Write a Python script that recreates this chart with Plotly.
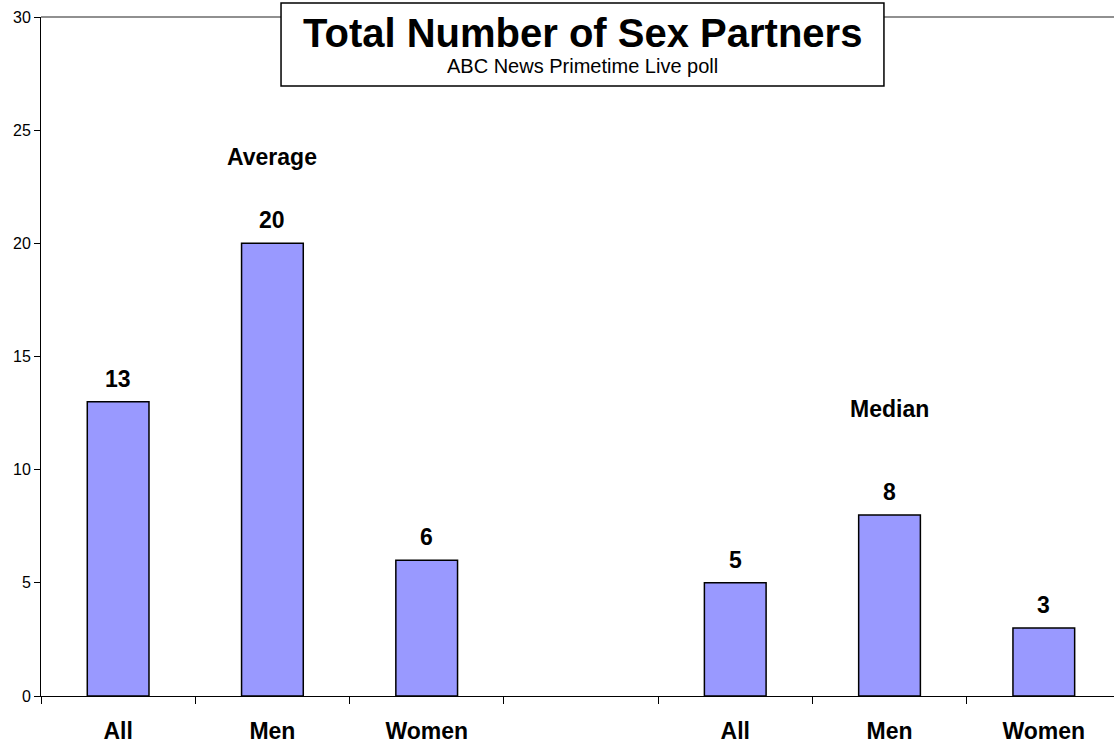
import plotly.graph_objects as go

# data
groups = ["Average", "Median"]
labels = ["All", "Men", "Women"]
average = [13, 20, 6]
median = [5, 8, 3]

# categorical slots: 3 bars, one empty gap slot, 3 bars
avg_ids = ["avg_" + s for s in labels]
med_ids = ["med_" + s for s in labels]
categories = avg_ids + ["gap"] + med_ids
tick_text = labels + [""] + labels

font_family = "Arial, Liberation Sans, sans-serif"
bar_color = "#9999FF"

fig = go.Figure()
fig.add_trace(go.Bar(
    x=avg_ids + med_ids,
    y=average + median,
    width=0.4,
    marker=dict(color=bar_color, line=dict(color="black", width=1.5)),
    showlegend=False,
    hoverinfo="x+y",
))

# value labels above each bar
for cat, val in zip(avg_ids + med_ids, average + median):
    fig.add_annotation(
        x=cat, y=val, text="<b>%d</b>" % val,
        showarrow=False, yanchor="bottom", yshift=8,
        font=dict(family=font_family, size=23, color="black"),
    )

# group labels
fig.add_annotation(x="avg_Men", y=23.8, text="<b>" + groups[0] + "</b>",
                   showarrow=False, yanchor="middle",
                   font=dict(family=font_family, size=23, color="black"))
fig.add_annotation(x="med_Men", y=12.7, text="<b>" + groups[1] + "</b>",
                   showarrow=False, yanchor="middle",
                   font=dict(family=font_family, size=23, color="black"))

# top border of the plot area (grey), then the title box over it
fig.add_shape(type="line", xref="paper", yref="paper", x0=0, x1=1, y0=1, y1=1,
              line=dict(color="#909090", width=2))
fig.add_shape(type="rect", xref="paper", yref="paper",
              x0=0.2237, x1=0.7856, y0=0.8984, y1=1.0206,
              fillcolor="white", line=dict(color="black", width=1.5))
fig.add_annotation(xref="paper", yref="paper", x=0.5047, y=0.9764,
                   xanchor="center", yanchor="middle",
                   text="<b>Total Number of Sex Partners</b>", showarrow=False,
                   font=dict(family=font_family, size=40, color="black"))
fig.add_annotation(xref="paper", yref="paper", x=0.5047, y=0.9278,
                   xanchor="center", yanchor="middle",
                   text="ABC News Primetime Live poll", showarrow=False,
                   font=dict(family=font_family, size=20, color="black"))

fig.update_layout(
    width=1114, height=744,
    margin=dict(l=41, r=0, t=17, b=48, autoexpand=False),
    paper_bgcolor="white", plot_bgcolor="white",
    font=dict(family=font_family, color="black"),
    bargap=0.6,
)
fig.update_xaxes(
    type="category", categoryorder="array", categoryarray=categories,
    tickmode="array", tickvals=categories, ticktext=tick_text,
    tickson="boundaries", ticks="outside", ticklen=7, tickcolor="black",
    showline=True, linecolor="black", linewidth=1,
    showgrid=False, range=[-0.5, 6.455],
    ticklabelstandoff=14, automargin=False,
    tickfont=dict(family=font_family, size=23, color="black", weight="bold"),
)
fig.update_yaxes(
    range=[0, 30], dtick=5, ticks="outside", ticklen=6, tickcolor="black",
    showline=True, linecolor="black", linewidth=1,
    showgrid=False, zeroline=False, automargin=False,
    tickfont=dict(family=font_family, size=16, color="black"),
)

# drop the default page margin so the figure sits at the window's corner
fig.write_html("out.html", config={"displayModeBar": False},
               post_script="document.body.style.margin='0';")
